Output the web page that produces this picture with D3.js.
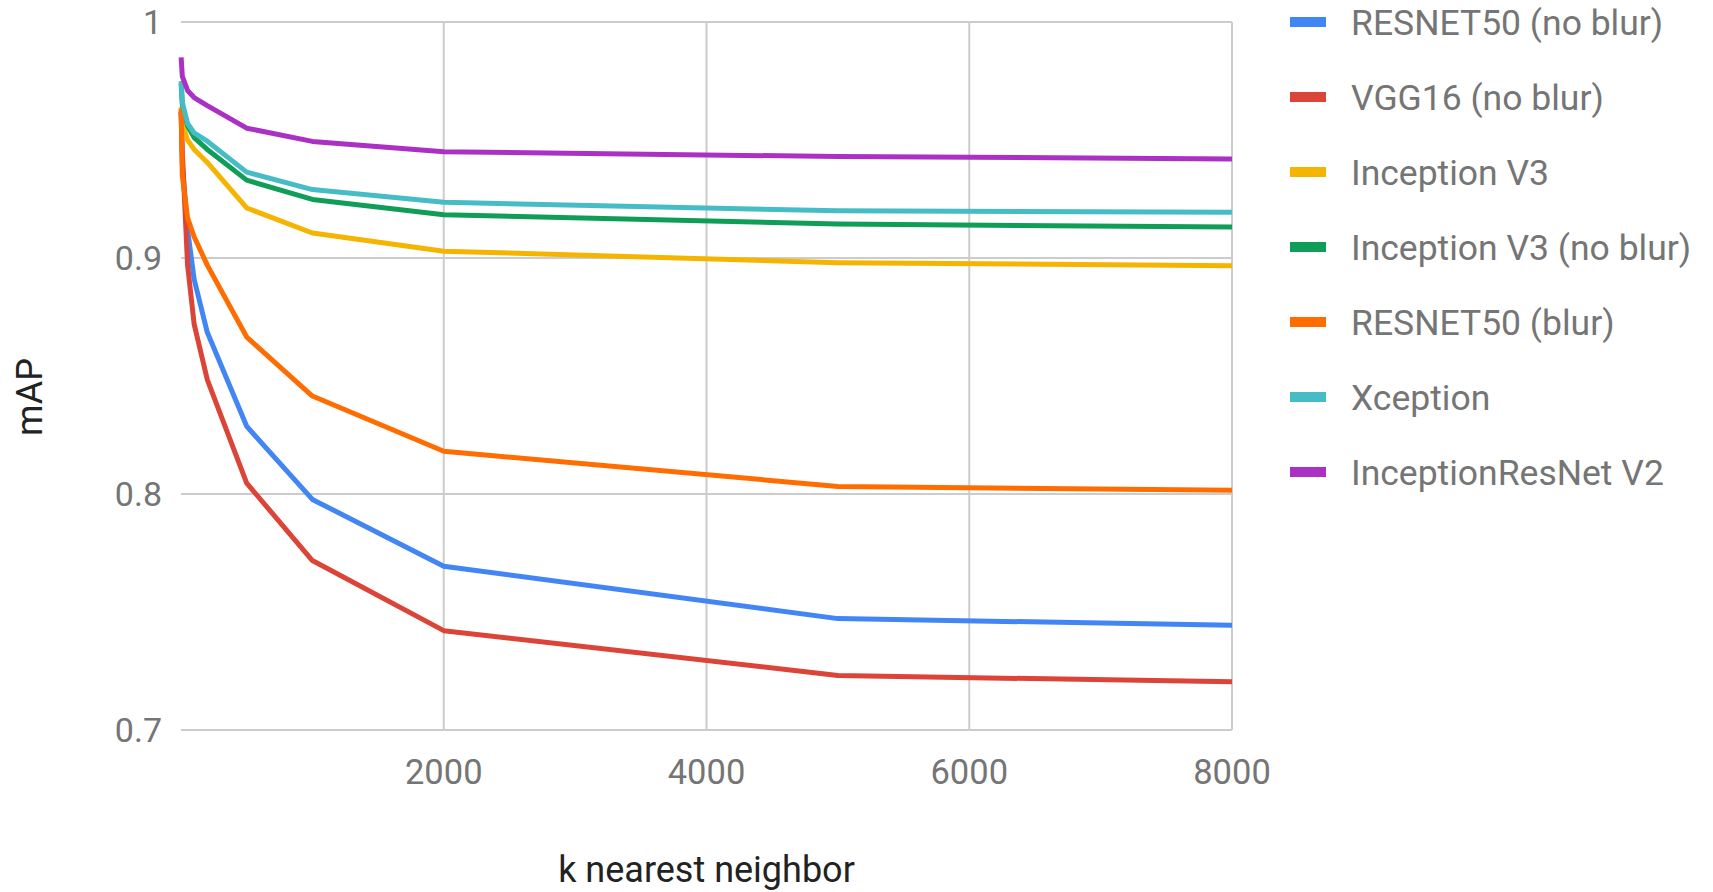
<!DOCTYPE html>
<html>
<head>
<meta charset="utf-8">
<script src="https://cdn.jsdelivr.net/npm/d3@7"></script>
<style>
  html, body { margin: 0; padding: 0; background: #fff; }
  svg { display: block; font-family: Roboto, "Noto Sans", sans-serif; }
</style>
</head>
<body>
<svg id="chart" width="1713" height="892"></svg>
<script>
// ---- data ----
const kValues = [1, 10, 50, 100, 200, 500, 1000, 2000, 5000, 8000];
const seriesNames = ["RESNET50 (no blur)", "VGG16 (no blur)", "Inception V3", "Inception V3 (no blur)", "RESNET50 (blur)", "Xception", "InceptionResNet V2"];
const seriesColors = ["#4285F4", "#DB4437", "#F4B400", "#0F9D58", "#FF6D00", "#46BDC6", "#AB30C4"];
const resnet50NoBlur = [0.962, 0.940, 0.912, 0.891, 0.8685, 0.8287, 0.7977, 0.7694, 0.7472, 0.7444];
const vgg16NoBlur    = [0.962, 0.945, 0.897, 0.872, 0.8485, 0.8046, 0.7718, 0.7421, 0.7231, 0.7204];
const inceptionV3    = [0.964, 0.957, 0.950, 0.946, 0.9405, 0.9212, 0.9106, 0.9029, 0.8980, 0.8967];
const inceptionV3NoBlur = [0.974, 0.965, 0.956, 0.951, 0.946, 0.933, 0.9248, 0.9183, 0.9144, 0.9131];
const resnet50Blur   = [0.963, 0.935, 0.917, 0.909, 0.897, 0.8665, 0.8415, 0.8181, 0.8032, 0.8016];
const xception       = [0.975, 0.966, 0.957, 0.953, 0.9495, 0.9364, 0.9290, 0.9236, 0.9200, 0.9194];
const inceptionResNetV2 = [0.985, 0.977, 0.971, 0.968, 0.9646, 0.955, 0.9494, 0.9450, 0.9430, 0.9420];
const seriesValues = [resnet50NoBlur, vgg16NoBlur, inceptionV3, inceptionV3NoBlur, resnet50Blur, xception, inceptionResNetV2];
const xTicks = [2000, 4000, 6000, 8000];
const yTicks = [0.7, 0.8, 0.9, 1];
const xTitle = "k nearest neighbor";
const yTitle = "mAP";

// ---- layout ----
const svg = d3.select("#chart");
const plot = { left: 181, right: 1232, top: 22, bottom: 730 };
const x = d3.scaleLinear().domain([0, 8000]).range([plot.left, plot.right]);
const y = d3.scaleLinear().domain([0.7, 1]).range([plot.bottom, plot.top]);

svg.append("rect").attr("width", 1713).attr("height", 892).attr("fill", "#fff");

// gridlines
const grid = svg.append("g");
grid.selectAll("line.h").data(yTicks).join("line")
  .attr("class", "h")
  .attr("x1", plot.left).attr("x2", plot.right)
  .attr("y1", d => y(d)).attr("y2", d => y(d))
  .attr("stroke", "#cccccc").attr("stroke-width", 2);
grid.selectAll("line.v").data(xTicks).join("line")
  .attr("class", "v")
  .attr("x1", d => x(d)).attr("x2", d => x(d))
  .attr("y1", plot.top).attr("y2", plot.bottom)
  .attr("stroke", "#cccccc").attr("stroke-width", 2);

// y tick labels
svg.append("g").selectAll("text").data(yTicks).join("text")
  .attr("x", plot.left - 19)
  .attr("y", d => y(d))
  .attr("dy", "0.36em")
  .attr("text-anchor", "end")
  .attr("font-size", 34)
  .attr("fill", "#757575")
  .text(d => d3.format("~g")(d));

// x tick labels
svg.append("g").selectAll("text").data(xTicks).join("text")
  .attr("x", d => x(d))
  .attr("y", 784)
  .attr("text-anchor", "middle")
  .attr("font-size", 34.5)
  .attr("fill", "#757575")
  .text(d => d);

// axis titles
svg.append("text")
  .attr("x", (plot.left + plot.right) / 2)
  .attr("y", 882)
  .attr("text-anchor", "middle")
  .attr("font-size", 36)
  .attr("fill", "#222")
  .text(xTitle);
svg.append("text")
  .attr("transform", "translate(42,397) rotate(-90)")
  .attr("text-anchor", "middle")
  .attr("font-size", 36)
  .attr("fill", "#222")
  .text(yTitle);

// lines
const line = d3.line().x((d, i) => x(kValues[i])).y(d => y(d));
svg.append("g").selectAll("path").data(seriesValues).join("path")
  .attr("d", d => line(d))
  .attr("fill", "none")
  .attr("stroke", (d, i) => seriesColors[i])
  .attr("stroke-width", 5)
  .attr("stroke-linejoin", "round")
  .attr("stroke-linecap", "butt");

// legend
const legend = svg.append("g").selectAll("g").data(seriesNames).join("g")
  .attr("transform", (d, i) => `translate(1290, ${22 + i * 75})`);
legend.append("rect")
  .attr("x", 0).attr("y", -5).attr("width", 36).attr("height", 10)
  .attr("fill", (d, i) => seriesColors[i]);
legend.append("text")
  .attr("x", 61).attr("y", 13)
  .attr("font-size", 35.5)
  .attr("fill", "#757575")
  .text(d => d);
</script>
</body>
</html>
